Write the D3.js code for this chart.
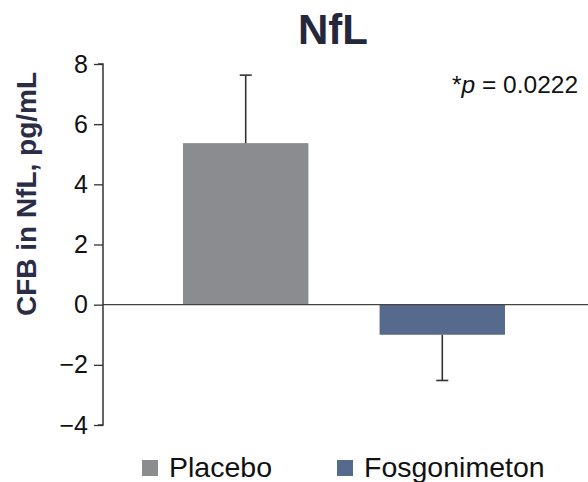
<!DOCTYPE html>
<html>
<head>
<meta charset="utf-8">
<script src="https://cdn.jsdelivr.net/npm/d3@7"></script>
<style>
  html, body { margin: 0; padding: 0; background: #fff; }
  svg { display: block; font-family: "Liberation Sans", Arial, sans-serif; }
</style>
</head>
<body>
<svg id="chart" width="588" height="482"></svg>
<script>
// Change from baseline in NfL by treatment group
const groups = ["Placebo", "Fosgonimeton"];
const means = [5.37, -1.0];
const errorEnds = [7.63, -2.52];
const colors = ["#8b8c90", "#566a8d"];
const yTicks = [-4, -2, 0, 2, 4, 6, 8];
const title = "NfL";
const yLabel = "CFB in NfL, pg/mL";
const pLabel = "0.0222";

const svg = d3.select("#chart");
const axisX = 103;

const y = d3.scaleLinear().domain([-4, 8]).range([425, 64]);
const x = d3.scaleBand().domain(groups).range([183, 505]).paddingInner(0.362).paddingOuter(0);

// Title
svg.append("text")
  .attr("x", 333).attr("y", 44)
  .attr("text-anchor", "middle")
  .attr("font-size", 42).attr("font-weight", "bold")
  .attr("fill", "#25273d")
  .text(title);

// Y axis title
svg.append("text")
  .attr("transform", "translate(36, 194) rotate(-90)")
  .attr("text-anchor", "middle")
  .attr("font-size", 28).attr("font-weight", "bold")
  .attr("fill", "#2a2d45")
  .text(yLabel);

// Bars
svg.append("g").selectAll("rect")
  .data(groups)
  .join("rect")
  .attr("x", d => x(d))
  .attr("width", x.bandwidth())
  .attr("y", (d, i) => y(Math.max(0, means[i])))
  .attr("height", (d, i) => Math.abs(y(means[i]) - y(0)))
  .attr("fill", (d, i) => colors[i]);

// Error bars
const eb = svg.append("g").attr("stroke", "#333").attr("stroke-width", 1.6);
groups.forEach((g, i) => {
  const cx = x(g) + x.bandwidth() / 2;
  eb.append("line").attr("x1", cx).attr("x2", cx).attr("y1", y(means[i])).attr("y2", y(errorEnds[i]));
  eb.append("line").attr("x1", cx - 6).attr("x2", cx + 6).attr("y1", y(errorEnds[i])).attr("y2", y(errorEnds[i]));
});

// Zero line
svg.append("line")
  .attr("x1", axisX).attr("x2", 588)
  .attr("y1", y(0)).attr("y2", y(0))
  .attr("stroke", "#444").attr("stroke-width", 1.3);

// Y axis
const yAxis = d3.axisLeft(y).tickValues(yTicks).tickSize(9).tickPadding(6)
  .tickFormat(d => d < 0 ? "\u2212" + Math.abs(d) : d);
const ag = svg.append("g").attr("transform", `translate(${axisX},0)`).call(yAxis);
ag.select(".domain").attr("stroke", "#333").attr("stroke-width", 1.5)
  .attr("d", `M-5,${y(8)}H0V${y(-4)}H-5`);
ag.selectAll(".tick line").attr("stroke", "#333").attr("stroke-width", 1.3);
ag.selectAll(".tick text").attr("font-size", 25).attr("fill", "#111")
  .attr("font-family", "'Liberation Sans', Arial, sans-serif");

// p-value annotation
const pt = svg.append("text")
  .attr("x", 452).attr("y", 93)
  .attr("font-size", 24.5).attr("fill", "#111");
pt.append("tspan").text("*");
pt.append("tspan").attr("font-style", "italic").text("p");
pt.append("tspan").text(" = " + pLabel);

// Legend
const legendX = [142, 337];
const lg = svg.append("g");
groups.forEach((g, i) => {
  lg.append("rect").attr("x", legendX[i]).attr("y", 460).attr("width", 16).attr("height", 16).attr("fill", colors[i]);
  lg.append("text").attr("x", legendX[i] + 27).attr("y", 477)
    .attr("font-size", 28.5).attr("fill", "#111").text(g);
});
</script>
</body>
</html>
